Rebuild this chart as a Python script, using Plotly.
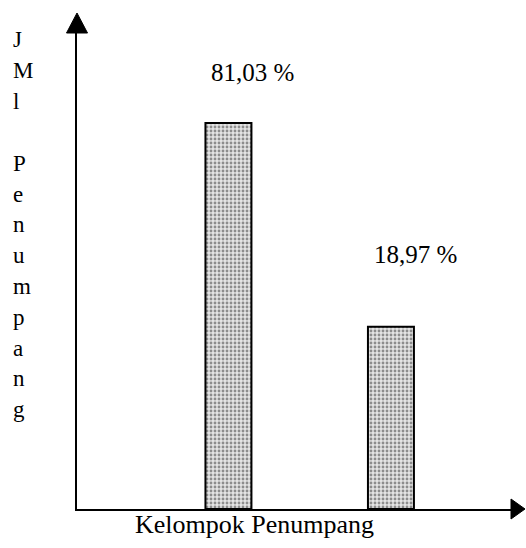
import plotly.graph_objects as go

# Data (bar heights in relative units; the drawing is not to scale)
categories = ["Kelompok A", "Kelompok B"]
bar_heights = [100.0, 47.2]
value_labels = ["81,03 %", "18,97 %"]
x_title = "Kelompok Penumpang"
y_title_letters = ["J", "M", "l", "", "P", "e", "n", "u", "m", "p", "a", "n", "g"]

W, H = 526, 548
L, R, T = 77, 14, 33
B = H - 509
PW, PH = W - L - R, H - T - B
FONT = "Liberation Serif, Times New Roman, serif"


def px(xp):
    return (xp - L) / PW


def py(yp):
    return (H - B - yp) / PH


fig = go.Figure()
fig.add_trace(go.Bar(
    x=categories, y=bar_heights, width=0.283,
    marker=dict(
        color="#d0d0d0",
        line=dict(color="black", width=2),
        pattern=dict(shape=".", fgcolor="#333333", bgcolor="#e4e4e4", size=4, solidity=0.4),
    ),
    showlegend=False, hoverinfo="skip",
))

fig.update_layout(
    width=W, height=H,
    margin=dict(l=L, r=R, t=T, b=B),
    paper_bgcolor="white", plot_bgcolor="white",
    font=dict(family=FONT, color="black", size=21),
    xaxis=dict(range=[-0.932, 1.745], showticklabels=False, ticks="", showgrid=False,
               zeroline=False, showline=True, linecolor="black", linewidth=2),
    yaxis=dict(range=[0, 123.3], showticklabels=False, ticks="", showgrid=False,
               zeroline=False, showline=True, linecolor="black", linewidth=2),
)

# Arrowheads on the axes
up_tip, up_base, up_hw = py(13), py(33), 10.5 / PW
fig.add_shape(type="path", xref="paper", yref="paper",
              path=f"M {-up_hw} {up_base} L {up_hw} {up_base} L 0 {up_tip} Z",
              fillcolor="black", line=dict(color="black", width=1))
r_tip, r_base, r_hh = px(525), px(511), 10 / PH
fig.add_shape(type="path", xref="paper", yref="paper",
              path=f"M {r_base} {r_hh} L {r_base} {-r_hh} L {r_tip} 0 Z",
              fillcolor="black", line=dict(color="black", width=1))

# Value labels
label_pos = [(252, 72), (415, 254)]
for txt, (lx, ly) in zip(value_labels, label_pos):
    fig.add_annotation(text=txt, xref="paper", yref="paper", x=px(lx), y=py(ly),
                       showarrow=False, xanchor="center", yanchor="middle",
                       font=dict(family=FONT, size=25, color="black"))

# X title
fig.add_annotation(text=x_title, xref="paper", yref="paper", x=px(254), y=py(524),
                   showarrow=False, xanchor="center", yanchor="middle",
                   font=dict(family=FONT, size=26, color="black"))

# Vertical stacked Y title
for i, ch in enumerate(y_title_letters):
    if not ch:
        continue
    fig.add_annotation(text=ch, xref="paper", yref="paper", x=px(11), y=py(40 + i * 30.8),
                       showarrow=False, xanchor="left", yanchor="middle",
                       font=dict(family=FONT, size=23, color="black"))

fig.write_html("out.html", config={"displayModeBar": False},
               post_script="document.body.style.margin='0';document.body.style.overflow='hidden';")
